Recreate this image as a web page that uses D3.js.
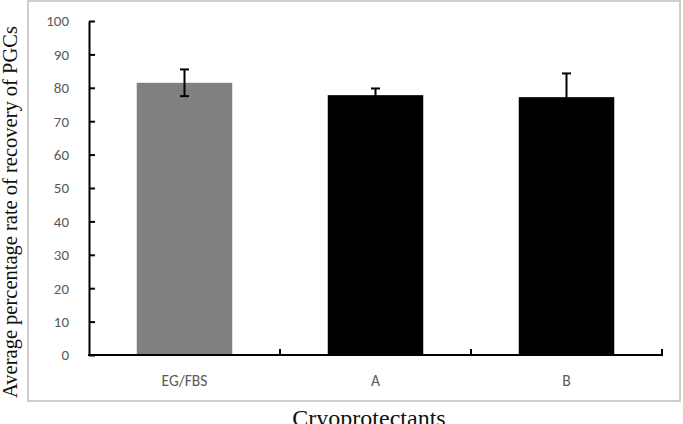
<!DOCTYPE html>
<html>
<head>
<meta charset="utf-8">
<script src="https://cdn.jsdelivr.net/npm/d3@7"></script>
<style>
  body { margin: 0; background: #fff; }
  svg { display: block; }
</style>
</head>
<body>
<svg id="chart" width="683" height="424"></svg>
<script>
// data
var categories = ["EG/FBS", "A", "B"];
var means = [81.5, 77.8, 77.2];
var errors = [4.0, 2.0, 7.1];
var yTicks = [0, 10, 20, 30, 40, 50, 60, 70, 80, 90, 100];

var svg = d3.select('#chart'),
    plotLeft = 89, plotRight = 662, plotTop = 21, plotBottom = 355;

var data = categories.map((c, i) => ({ cat: c, mean: means[i], err: errors[i] }));

var x = d3.scaleBand()
    .domain(categories)
    .range([plotLeft, plotRight])
    .paddingInner(0.5)
    .paddingOuter(0.25);

var y = d3.scaleLinear()
    .domain([0, 100])
    .range([plotBottom, plotTop]);

// outer chart frame
svg.append('rect')
    .attr('x', 28).attr('y', 1)
    .attr('width', 652).attr('height', 400)
    .attr('fill', 'none')
    .attr('stroke', '#bfbfbf')
    .attr('stroke-width', 1.5);

//bars
svg.selectAll('.bar')
    .data(data)
    .enter()
    .append('rect')
    .attr('class', 'bar')
    .attr('x', d => x(d.cat))
    .attr('y', d => y(d.mean))
    .attr('width', x.bandwidth())
    .attr('height', d => y(0) - y(d.mean))
    .attr('fill', (d, i) => i === 0 ? '#808080' : '#000000');

// error bars
var eb = svg.selectAll('.err')
    .data(data)
    .enter()
    .append('g')
    .attr('class', 'err')
    .attr('stroke', '#000')
    .attr('stroke-width', 2);

eb.append('line')
    .attr('x1', d => x(d.cat) + x.bandwidth() / 2)
    .attr('x2', d => x(d.cat) + x.bandwidth() / 2)
    .attr('y1', d => y(d.mean - d.err))
    .attr('y2', d => y(d.mean + d.err));

[1, -1].forEach(s => {
    eb.append('line')
        .attr('x1', d => x(d.cat) + x.bandwidth() / 2 - 4.5)
        .attr('x2', d => x(d.cat) + x.bandwidth() / 2 + 4.5)
        .attr('y1', d => y(d.mean + s * d.err))
        .attr('y2', d => y(d.mean + s * d.err));
});

// y axis
var yAxis = svg.append('g')
    .attr('transform', 'translate(' + plotLeft + ',0)')
    .call(d3.axisLeft(y).tickValues(yTicks).tickSizeInner(-6).tickSizeOuter(0).tickPadding(20));

yAxis.select('.domain').attr('stroke', '#000').attr('stroke-width', 2);
yAxis.selectAll('.tick line').attr('stroke', '#000').attr('stroke-width', 2);
yAxis.selectAll('.tick text')
    .attr('fill', '#595959')
    .style('font-family', 'Calibri, Carlito, "Open Sans", sans-serif')
    .style('font-size', '15px');

// x axis line with boundary ticks
svg.append('line')
    .attr('x1', plotLeft - 1).attr('x2', plotRight + 1)
    .attr('y1', y(0)).attr('y2', y(0))
    .attr('stroke', '#000').attr('stroke-width', 2);

var bounds = categories.map((c, i) => plotLeft + (i + 1) * x.step());
svg.selectAll('.xtick')
    .data(bounds)
    .enter()
    .append('line')
    .attr('x1', d => d).attr('x2', d => d)
    .attr('y1', y(0)).attr('y2', y(0) - 6)
    .attr('stroke', '#000').attr('stroke-width', 2);

svg.selectAll('.xlab')
    .data(categories)
    .enter()
    .append('text')
    .attr('x', d => x(d) + x.bandwidth() / 2)
    .attr('y', 386)
    .attr('text-anchor', 'middle')
    .attr('fill', '#595959')
    .style('font-family', 'Calibri, Carlito, "Open Sans", sans-serif')
    .style('font-size', '15.5px')
    .text(d => d);

// axis titles
svg.append('text')
    .attr('transform', 'translate(17,212) rotate(-90)')
    .attr('text-anchor', 'middle')
    .attr('fill', '#111')
    .style('font-family', '"Liberation Serif", "Times New Roman", serif')
    .style('font-size', '20.5px')
    .text('Average percentage rate of recovery of PGCs');

svg.append('text')
    .attr('x', 369)
    .attr('y', 426)
    .attr('text-anchor', 'middle')
    .attr('fill', '#111')
    .style('font-family', '"Liberation Serif", "Times New Roman", serif')
    .style('font-size', '24px')
    .text('Cryoprotectants');
</script>
</body>
</html>
